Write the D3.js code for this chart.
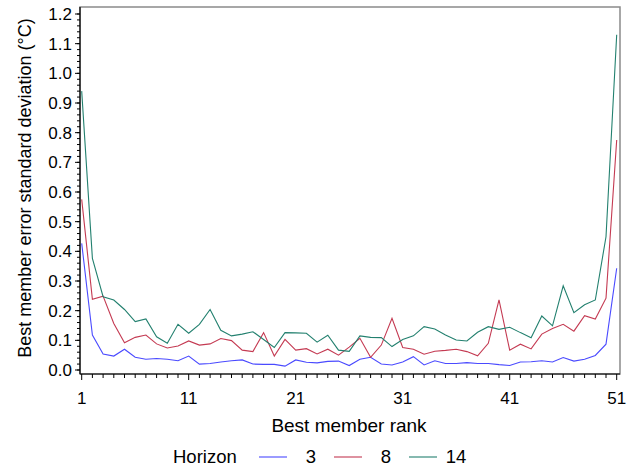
<!DOCTYPE html>
<meta charset="utf-8">
<style>
  body { margin: 0; background: #fff; }
  text { font-family: "Liberation Sans", Arial, sans-serif; fill: #000; }
</style>
<body>
<script src="https://d3js.org/d3.v7.min.js"></script>
<script>

// best member rank 1..51
var ranks = d3.range(1, 52);

// horizon 3 days
var h3 = [0.427,0.118,0.054,0.047,0.070,0.043,0.036,0.039,0.036,0.031,
          0.047,0.020,0.022,0.027,0.031,0.034,0.020,0.019,0.019,0.013,
          0.034,0.026,0.024,0.029,0.030,0.015,0.036,0.043,0.020,0.017,
          0.027,0.045,0.017,0.031,0.022,0.022,0.025,0.022,0.022,0.018,
          0.015,0.027,0.028,0.031,0.027,0.042,0.030,0.036,0.049,0.087,0.343];

// horizon 8 days
var h8 = [0.575,0.238,0.249,0.157,0.092,0.110,0.118,0.088,0.074,0.081,
          0.098,0.084,0.088,0.106,0.099,0.067,0.062,0.126,0.047,0.103,
          0.067,0.072,0.054,0.070,0.050,0.077,0.107,0.043,0.084,0.174,
          0.076,0.070,0.053,0.063,0.066,0.070,0.062,0.048,0.090,0.236,
          0.067,0.087,0.071,0.121,0.140,0.154,0.131,0.183,0.172,0.242,0.775];

// horizon 14 days
var h14 = [0.940,0.376,0.247,0.236,0.204,0.163,0.172,0.112,0.090,0.154,
           0.124,0.154,0.204,0.134,0.115,0.121,0.129,0.103,0.076,0.126,
           0.125,0.124,0.094,0.117,0.067,0.063,0.115,0.110,0.109,0.079,
           0.103,0.115,0.146,0.138,0.118,0.101,0.098,0.127,0.146,0.137,
           0.144,0.126,0.109,0.182,0.149,0.284,0.193,0.220,0.236,0.449,1.130];

var horizons = ["3", "8", "14"];
var colors = ["#4a4aff", "#c43a52", "#23806f"];
var xTicks = [1, 11, 21, 31, 41, 51];
var yTicks = [0, 0.1, 0.2, 0.3, 0.4, 0.5, 0.6, 0.7, 0.8, 0.9, 1.0, 1.1, 1.2];

var width = 633,
    height = 468;

var svg = d3.select("body").append("svg")
    .attr("width", width)
    .attr("height", height);

var x = d3.scaleLinear().domain([1, 51]).range([81.7, 616.7]);
var y = d3.scaleLinear().domain([0, 1.2]).range([370, 14]);

// frame
svg.append("rect")
    .attr("x", 80).attr("y", 7)
    .attr("width", 540).attr("height", 367)
    .attr("fill", "none")
    .attr("stroke", "#8a8a8a")
    .attr("stroke-width", 1.5);

// y axis
var yAxis = svg.append("g").attr("transform", "translate(80,0)");
yAxis.selectAll("line.minor")
  .data(d3.range(0, 61).map(function(i) { return i * 0.02; }))
  .enter().append("line")
    .attr("x1", -3).attr("x2", 0)
    .attr("y1", function(d) { return y(d); })
    .attr("y2", function(d) { return y(d); })
    .attr("stroke", "#000");
yAxis.selectAll("line.major")
  .data(yTicks)
  .enter().append("line")
    .attr("x1", -5).attr("x2", 0)
    .attr("y1", function(d) { return y(d); })
    .attr("y2", function(d) { return y(d); })
    .attr("stroke", "#000");
yAxis.selectAll("text")
  .data(yTicks)
  .enter().append("text")
    .attr("x", -8)
    .attr("y", function(d) { return y(d); })
    .attr("dy", "0.36em")
    .attr("text-anchor", "end")
    .style("font-size", "17px")
    .text(function(d) { return d3.format(".1f")(d); });
yAxis.append("line")
    .attr("x1", 0).attr("x2", 0).attr("y1", 7).attr("y2", 374)
    .attr("stroke", "#000").attr("stroke-width", 1.2);

// x axis
var xAxis = svg.append("g").attr("transform", "translate(0,374)");
xAxis.selectAll("line.minor")
  .data(ranks)
  .enter().append("line")
    .attr("x1", function(d) { return x(d); })
    .attr("x2", function(d) { return x(d); })
    .attr("y1", 0)
    .attr("y2", function(d) { return (d - 1) % 10 === 0 ? 6 : 4; })
    .attr("stroke", "#000");
xAxis.selectAll("text")
  .data(xTicks)
  .enter().append("text")
    .attr("x", function(d) { return x(d); })
    .attr("y", 30)
    .attr("text-anchor", "middle")
    .style("font-size", "17px")
    .text(function(d) { return d; });
xAxis.append("line")
    .attr("x1", 80).attr("x2", 620).attr("y1", 0).attr("y2", 0)
    .attr("stroke", "#000").attr("stroke-width", 1.2);

// axis titles
svg.append("text")
    .attr("x", 349).attr("y", 432)
    .attr("text-anchor", "middle")
    .style("font-size", "19px")
    .text("Best member rank");

svg.append("text")
    .attr("transform", "translate(31,188) rotate(-90)")
    .attr("text-anchor", "middle")
    .style("font-size", "18px")
    .text("Best member error standard deviation (\u00B0C)");

// series
var series = [h3, h8, h14];
var line = d3.line()
    .x(function(d, i) { return x(ranks[i]); })
    .y(function(d) { return y(d); });

svg.append("g")
  .selectAll("path")
  .data(series)
  .enter().append("path")
    .attr("d", line)
    .attr("fill", "none")
    .attr("stroke", function(d, i) { return colors[i]; })
    .attr("stroke-width", 1.1);

// legend
var legend = svg.append("g").attr("transform", "translate(0,463)");
legend.append("text")
    .attr("x", 173).attr("y", 0)
    .style("font-size", "18.5px")
    .text("Horizon");
var lx = [259, 334, 409];
var tx = [311, 386, 456];
horizons.forEach(function(h, i) {
  legend.append("line")
      .attr("x1", lx[i]).attr("x2", lx[i] + 28)
      .attr("y1", -6).attr("y2", -6)
      .attr("stroke", colors[i])
      .attr("stroke-width", 1.1);
  legend.append("text")
      .attr("x", tx[i]).attr("y", 0)
      .attr("text-anchor", "middle")
      .style("font-size", "18.5px")
      .text(h);
});

</script>
</body>
